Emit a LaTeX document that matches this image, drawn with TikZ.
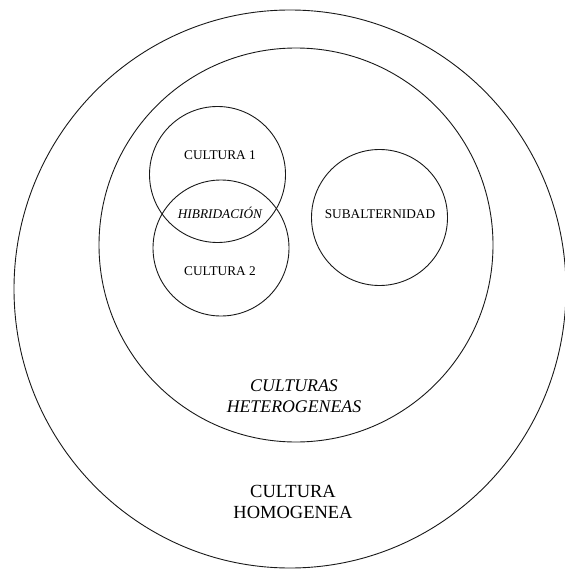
\documentclass[tikz,border=0pt]{standalone}
\usepackage{fontspec}
\setmainfont{Liberation Serif}
\begin{document}
\begin{tikzpicture}[x=1pt,y=-1pt,
  ring/.style={draw=black!90,line width=0.9pt,circle,inner sep=0pt,minimum size=#1},
  small/.style={font=\fontsize{13.3}{15}\selectfont,text=black},
  big/.style={font=\fontsize{18.5}{21}\selectfont,align=center,text=black}]
\useasboundingbox (0,0) rectangle (564,569);
\draw[draw=black!90,line width=0.9pt] (290,289) ellipse[x radius=276,y radius=279];
\node[ring=394pt] (hetero) at (296,245) {};
\node[ring=136pt] (c1) at (217.5,174.5) {};
\node[ring=136pt] (c2) at (221,248) {};
\node[ring=136pt] (sub) at (379.5,217.5) {};
\node[small] (t1) at (220,155) {CULTURA 1};
\node[small] (t2) at (220,271) {CULTURA 2};
\node[small,font=\fontsize{13.3}{15}\selectfont\itshape] (th) at (220,213) {HIBRIDACIÓN};
\node[small] (ts) at (380,214) {SUBALTERNIDAD};
\node[big,font=\fontsize{17.8}{21.5}\selectfont\itshape] (thet) at (294,396) {CULTURAS\\HETEROGENEAS};
\node[big] (thom) at (293,502) {CULTURA\\HOMOGENEA};
\end{tikzpicture}
\end{document}
